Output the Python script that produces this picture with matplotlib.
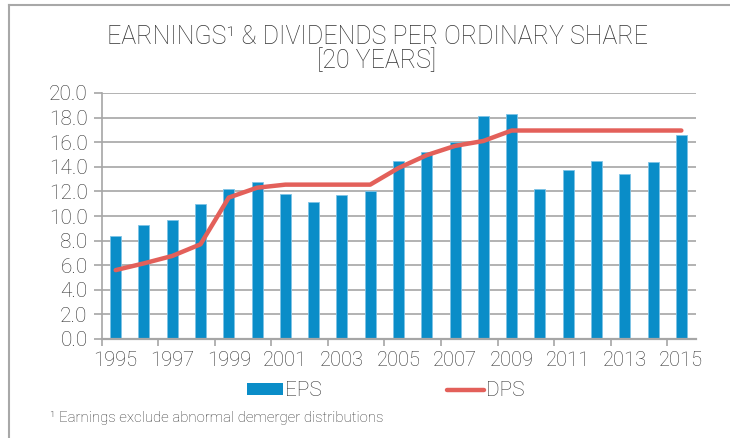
import matplotlib
matplotlib.use("Agg")
import matplotlib.pyplot as plt
from matplotlib.lines import Line2D
from matplotlib.patches import Patch
import numpy as np

years = list(range(1995, 2016))
eps = [8.4, 9.3, 9.7, 11.0, 12.2, 12.8, 11.8, 11.1, 11.7, 12.0, 14.5,
       15.2, 16.0, 18.1, 18.3, 12.2, 13.7, 14.5, 13.4, 14.4, 16.6]
dps = [5.6, 6.15, 6.75, 7.7, 11.5, 12.3, 12.55, 12.55, 12.55, 12.55, 13.9,
       14.95, 15.7, 16.1, 16.95, 16.95, 16.95, 16.95, 16.95, 16.95, 16.95]
yticks = [0, 2, 4, 6, 8, 10, 12, 14, 16, 18, 20]
title_line1 = "EARNINGS\u00b9 & DIVIDENDS PER ORDINARY SHARE"
title_line2 = "[20 YEARS]"
footnote = "\u00b9 Earnings exclude abnormal demerger distributions"

plt.rcParams['font.family'] = ['Roboto', 'Liberation Sans', 'DejaVu Sans']
plt.rcParams['font.weight'] = 'light'
TXT = '#333333'
BAR = '#0A8DC8'
LINE = '#E3605A'
GRID = '#A6A6A6'

fig = plt.figure(figsize=(7.3, 4.38), dpi=100)
W, H = 730, 438
ax = fig.add_axes([101.5 / W, 1 - 339 / H, (695.5 - 101.5) / W, (339 - 93) / H])

x = np.arange(len(years))
ax.bar(x, eps, width=0.39, color=BAR, edgecolor='#7EC3E6', linewidth=0.6, zorder=2)
ax.plot(x, dps, color=LINE, lw=3.2, solid_capstyle='round', solid_joinstyle='round', zorder=3)

ax.set_xlim(-0.5, len(years) - 0.5)
ax.set_ylim(0, 20)
ax.set_yticks(yticks)
ax.set_yticklabels([f"{v:.1f}" for v in yticks])
ax.yaxis.grid(True, color=GRID, lw=1.2, zorder=0)
ax.set_axisbelow(True)

ax.set_xticks(x[::2])
ax.set_xticklabels([str(y) for y in years[::2]])
ax.set_xticks(np.arange(-0.5, len(years), 2), minor=True)
ax.tick_params(axis='x', which='major', length=0, pad=9, labelsize=14.5, labelcolor=TXT)
ax.tick_params(axis='x', which='minor', length=5, width=1.2, color=GRID)
ax.tick_params(axis='y', length=6, width=1.2, color=GRID, pad=4, labelsize=15, labelcolor=TXT)

for s in ['top', 'right']:
    ax.spines[s].set_visible(False)
ax.spines['left'].set_color(GRID)
ax.spines['left'].set_linewidth(1.2)
ax.spines['bottom'].set_color(GRID)
ax.spines['bottom'].set_linewidth(1.6)

fig.text(377 / W, 1 - 44 / H, title_line1, ha='center', va='baseline', fontsize=18, color=TXT)
fig.text(377 / W, 1 - 68 / H, title_line2, ha='center', va='baseline', fontsize=18, color=TXT)

handles = [Patch(facecolor=BAR, edgecolor='none'),
           Line2D([0], [0], color=LINE, lw=3.2, solid_capstyle='round')]
fig.legend(handles, ['EPS', 'DPS'], loc='center', bbox_to_anchor=(385.5 / W, 1 - 391 / H),
           ncol=2, frameon=False, fontsize=15, labelcolor=TXT, handlelength=1.75,
           handleheight=0.55, handletextpad=0.1, columnspacing=6.0)

fig.text(50 / W, 1 - 418 / H, footnote, ha='left', va='center', fontsize=10.8, color=TXT)

# frame border (top and left)
fig.add_artist(Line2D([9 / W, 9 / W], [0, 1 - 5 / H], color='#A8A8A8', lw=1.5,
                      transform=fig.transFigure))
fig.add_artist(Line2D([9 / W, 1], [1 - 5 / H, 1 - 5 / H], color='#A8A8A8', lw=1.5,
                      transform=fig.transFigure))

fig.savefig('out.png', dpi=100)
